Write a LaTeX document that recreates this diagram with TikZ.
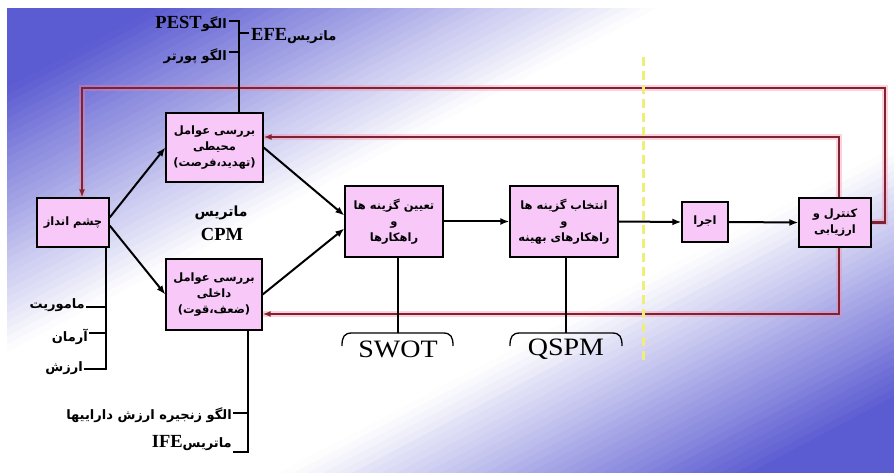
\documentclass[tikz,border=0pt]{standalone}
\usepackage{fontspec}
\usetikzlibrary{arrows.meta,calc}
\TeXXeTstate=1
\newfontfamily\arabicfont[Script=Arabic]{DejaVu Sans}
\newfontfamily\dvs{DejaVu Sans}
\newfontfamily\serifL{Liberation Serif}
\newcommand{\pers}[1]{\mbox{\arabicfont\bfseries\beginR #1\endR}}
\newcommand{\lpar}[1]{\mbox{\dvs\bfseries #1}}
\definecolor{bgblue}{RGB}{92,92,210}
\definecolor{boxpink}{RGB}{248,200,248}
\definecolor{fbred}{RGB}{125,35,50}
\definecolor{glowpink}{RGB}{255,130,160}
\definecolor{ydash}{RGB}{238,238,120}
\pgfdeclarelayer{bg}
\pgfsetlayers{bg,main}
\begin{document}
\begin{tikzpicture}[x=1pt,y=-1pt,
  box/.style={draw=black,line width=1.3pt,fill=boxpink,inner sep=0pt,align=center,
    font=\dvs\bfseries\fontsize{11.5}{16}\selectfont},
  flow/.style={line width=2pt,-{Latex[length=9pt,width=7pt]}},
  fb/.style={line width=2.4pt,draw=fbred,-{Latex[length=8pt,width=6pt]}},
  glow/.style={line width=6pt,draw=glowpink,opacity=0.35},
  thinl/.style={line width=1.2pt},
  lbl/.style={inner sep=0pt,font=\dvs\bfseries\fontsize{13}{15}\selectfont},
  ltn/.style={font=\serifL\bfseries\fontsize{18.5}{18.5}\selectfont},
  bigl/.style={inner sep=0pt,font=\serifL\fontsize{25}{25}\selectfont,xscale=1.12},
  brace/.style={line width=1.3pt}
]
\useasboundingbox (0,0) rectangle (894,473);

% boxes
\node[box,minimum width=72,minimum height=49] (vis) at (73,222.5) {\pers{چشم انداز}};
\node[box,minimum width=97,minimum height=69] (env) at (214.5,147.5)
  {\pers{بررسی عوامل}\\\pers{محیطی}\\\lpar{(}\pers{فرصت}\pers{،}\pers{تهدید}\lpar{)}};
\node[box,minimum width=96,minimum height=71] (int) at (214,294.5)
  {\pers{بررسی عوامل}\\\pers{داخلی}\\\lpar{(}\pers{قوت}\pers{،}\pers{ضعف}\lpar{)}};
\node[box,minimum width=98,minimum height=71] (opt) at (394,221.5)
  {\pers{تعیین گزینه ها}\\\pers{و}\\\pers{راهکارها}};
\node[box,minimum width=108,minimum height=71] (sel) at (564,221.5)
  {\pers{انتخاب گزینه ها}\\\pers{و}\\\pers{راهکارهای بهینه}};
\node[box,minimum width=46,minimum height=40] (exe) at (705,222) {\pers{اجرا}};
\node[box,minimum width=72,minimum height=49] (ctl) at (835,222.5)
  {\pers{کنترل و}\\\pers{ارزیابی}};

% CPM label
\node[lbl,font=\dvs\bfseries\fontsize{14}{16}\selectfont] (cpm1) at (221,213) {\pers{ماتریس}};
\node[ltn,inner sep=0pt] (cpm2) at (222,234) {CPM};

% main flow arrows
\draw[flow] ([yshift=5pt]vis.east) -- (env.west);
\draw[flow] ([yshift=-3pt]vis.east) -- (int.west);
\draw[flow] (env.east) -- ([yshift=6pt]opt.west);
\draw[flow] (int.east) -- ([yshift=-7pt]opt.west);
\draw[flow] (opt.east) -- (sel.west);
\draw[flow] (sel.east) -- (exe.west);
\draw[flow] (exe.east) -- (ctl.west);

% feedback lines
\coordinate (oR) at (885,88);
\coordinate (vTop) at ($(vis.north)+(9,0)$);
\coordinate (cTop) at ($(ctl.north)+(4,0)$);
\coordinate (cBot) at ($(ctl.south)+(4,0)$);
\coordinate (eIn) at ($(env.east)+(0,-10.5)$);
\coordinate (iIn) at ($(int.east)+(0,19.5)$);
\coordinate (bgc) at (450.5,241);
\begin{pgfonlayer}{bg}
\begin{scope}
\clip (7,9) rectangle (894,473);
\begin{scope}[rotate around={27.9:(bgc)}]
\foreach \i in {0,...,119}{
  \pgfmathsetmacro\uu{-1+(\i+0.5)/60}
  \pgfmathsetmacro\ta{max(0,(\uu-0.26)/0.74)}
  \pgfmathsetmacro\tb{max(0,(-\uu-0.30)/0.70)}
  \pgfmathtruncatemacro\pct{100*min(1,max(\ta,\tb)*1.3)}
  \pgfmathsetmacro\pa{-413+\i*6.8833-0.6}
  \pgfmathsetmacro\pb{-413+(\i+1)*6.8833+0.6}
  \fill[bgblue!\pct!white] ($(bgc)+(-700,-\pa)$) rectangle ($(bgc)+(700,-\pb)$);
}
\end{scope}
\end{scope}
\draw[glow] (ctl.east) -| (oR) -| (vTop);
\draw[glow] (cTop) |- (eIn);
\draw[glow] (cBot) |- (iIn);
\end{pgfonlayer}
\draw[fb] (ctl.east) -| (oR) -| (vTop);
\draw[fb] (cTop) |- (eIn);
\draw[fb] (cBot) |- (iIn);

% yellow dashed divider
\coordinate (yT) at (643,57);
\coordinate (yB) at (643,362);
\draw[ydash,line width=3pt,dash pattern=on 9pt off 5pt] (yT) -- (yB);

% top annotation (env)
\coordinate (eT) at ($(env.north)+(24.5,0)$);
\coordinate (tTop) at (239,21);
\coordinate (tEfe) at (239,33);
\coordinate (tPor) at (239,52);
\draw[thinl] (eT) -- (tTop) -- (229,21);
\draw[thinl] (tEfe) -- (249,33);
\draw[thinl] (tPor) -- (229,52);
\node[lbl,anchor=east] (pest) at (227,24) {{\serifL\bfseries\fontsize{18.5}{18.5}\selectfont PEST}\pers{الگو}};
\node[lbl,anchor=east] (port) at (227,56) {\pers{الگو پورتر}};
\node[lbl,anchor=west] (efe) at (251,36) {{\serifL\bfseries\fontsize{18.5}{18.5}\selectfont EFE}\pers{ماتریس}};

% vision annotation
\coordinate (vB) at ($(vis.south)+(33,0)$);
\coordinate (vEnd) at (106,369);
\draw[thinl] (vB) -- (vEnd) -- (84,369);
\draw[thinl] (106,307) -- (86,307);
\draw[thinl] (106,333) -- (89,333);
\node[lbl,anchor=east] (mam) at (85,305) {\pers{ماموریت}};
\node[lbl,anchor=east] (arm) at (88,337) {\pers{آرمان}};
\node[lbl,anchor=east] (arz) at (83,368) {\pers{ارزش}};

% internal annotation
\coordinate (iB) at ($(int.south)+(34,0)$);
\coordinate (iEnd) at (248,452);
\draw[thinl] (iB) -- (iEnd) -- (233,452);
\draw[thinl] (248,413) -- (233,413);
\node[lbl,anchor=east] (zan) at (232,415) {\pers{الگو زنجیره ارزش داراییها}};
\node[lbl,anchor=east] (ife) at (232,443) {{\serifL\bfseries\fontsize{18.5}{18.5}\selectfont IFE}\pers{ماتریس}};

% SWOT / QSPM
\coordinate (oB) at ($(opt.south)+(4,0)$);
\coordinate (oBr) at (398,333);
\draw[thinl] (oB) -- (oBr);
\draw[brace] (342,346) .. controls (342,337) and (344,333) .. (352,333) -- (443,333) .. controls (451,333) and (453,337) .. (453,346);
\node[bigl] (swot) at (398,349) {SWOT};
\coordinate (sB) at ($(sel.south)+(2,0)$);
\coordinate (sBr) at (566,333);
\draw[thinl] (sB) -- (sBr);
\draw[brace] (510,346) .. controls (510,337) and (512,333) .. (520,333) -- (612,333) .. controls (620,333) and (622,337) .. (622,346);
\node[bigl] (qspm) at (566,349) {QSPM};
\end{tikzpicture}
\end{document}
